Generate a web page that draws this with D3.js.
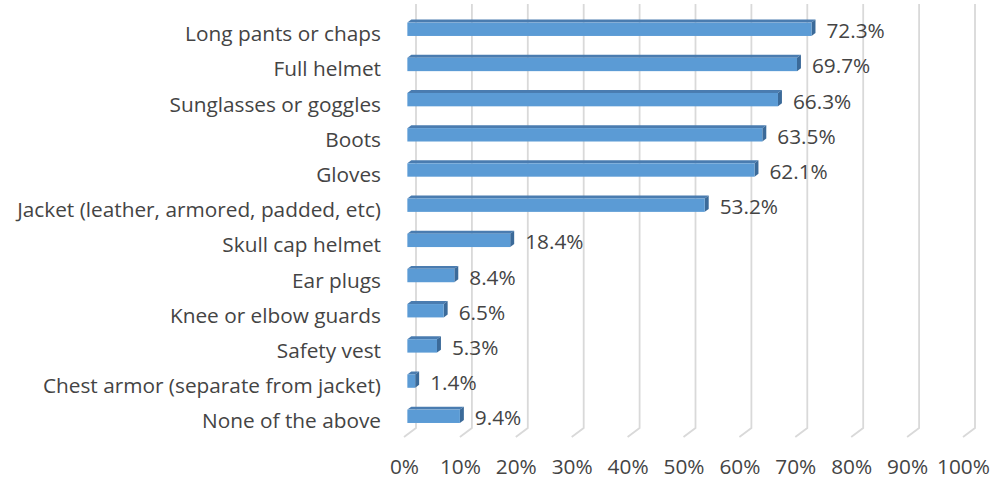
<!DOCTYPE html>
<html><head><meta charset="utf-8">
<script src="https://cdn.jsdelivr.net/npm/d3@7"></script>
<style>body{margin:0;background:#fff} svg text{font-family:"Open Sans",sans-serif}</style>
</head><body>
<svg id="chart" width="993" height="479"></svg>
<script>
const categories = [
  "Long pants or chaps",
  "Full helmet",
  "Sunglasses or goggles",
  "Boots",
  "Gloves",
  "Jacket (leather, armored, padded, etc)",
  "Skull cap helmet",
  "Ear plugs",
  "Knee or elbow guards",
  "Safety vest",
  "Chest armor (separate from jacket)",
  "None of the above"
];
const values = [72.3, 69.7, 66.3, 63.5, 62.1, 53.2, 18.4, 8.4, 6.5, 5.3, 1.4, 9.4];
const tickValues = [0, 10, 20, 30, 40, 50, 60, 70, 80, 90, 100];

const svg = d3.select("#chart");
const fontSize = 20.8;
const textColor = "#444444";
const wallTop = 4, wallBottom = 428;
const depthX = -12, depthY = 9;      // vector from back wall to front edge of floor
const fFront = 0.72, fBack = 0.39;   // bar depth positions (fraction of floor depth)

const x = d3.scaleLinear().domain([0, 100]).range([416, 975]);
const xFront = d3.scaleLinear().domain([0, 100]).range([416 + depthX, 975 + depthX]);
const y = d3.scaleBand().domain(categories).range([5.2, 427.4]);
const barH = y.bandwidth() * 0.38;

// gridlines (back wall + floor diagonal)
svg.append("g").selectAll("path").data(tickValues).join("path")
  .attr("d", t => `M${x(t)},${wallTop}V${wallBottom}L${x(t) + depthX},${wallBottom + depthY}`)
  .attr("fill", "none").attr("stroke", "#d9d9d9").attr("stroke-width", 1.8);

const data = categories.map((c, i) => ({c, v: values[i]}));
const bars = svg.append("g").selectAll("g").data(data).join("g");

function pt(v, c, f, off) {
  const cy = y(c) + y.bandwidth() / 2;
  return [x(v) + f * depthX, cy - barH / 2 + f * depthY + off];
}
// top face
bars.append("path")
  .attr("d", d => {
    const a = pt(0, d.c, fFront, 0), b = pt(d.v, d.c, fFront, 0),
          c2 = pt(d.v, d.c, fBack, 0), e = pt(0, d.c, fBack, 0);
    return `M${a}L${b}L${c2}L${e}Z`;
  })
  .attr("fill", "#4a7cb0");
// side face
bars.append("path")
  .attr("d", d => {
    const a = pt(d.v, d.c, fFront, 0), b = pt(d.v, d.c, fBack, 0),
          c2 = pt(d.v, d.c, fBack, barH), e = pt(d.v, d.c, fFront, barH);
    return `M${a}L${b}L${c2}L${e}Z`;
  })
  .attr("fill", "#3b6a99");
// front face
bars.append("rect")
  .attr("x", d => pt(0, d.c, fFront, 0)[0])
  .attr("y", d => pt(0, d.c, fFront, 0)[1])
  .attr("width", d => x(d.v) - x(0))
  .attr("height", barH)
  .attr("fill", "#5b9bd5");

// value labels
bars.append("text")
  .attr("x", d => x(d.v) + fBack * depthX + 11)
  .attr("y", d => y(d.c) + y.bandwidth() / 2 + fFront * depthY + 1.5)
  .attr("dy", "0.36em")
  .attr("font-size", fontSize).attr("fill", textColor)
  .text(d => d3.format(".1f")(d.v) + "%");

// category labels
svg.append("g").selectAll("text").data(categories).join("text")
  .attr("x", 381)
  .attr("y", c => y(c) + y.bandwidth() / 2 + depthY + 2)
  .attr("dy", "0.36em")
  .attr("text-anchor", "end")
  .attr("font-size", fontSize).attr("fill", textColor)
  .text(c => c);

// x axis
const axis = svg.append("g").attr("transform", "translate(0,459)")
  .call(d3.axisBottom(xFront).tickValues(tickValues).tickFormat(d => d + "%").tickSize(0).tickPadding(0));
axis.select(".domain").remove();
axis.selectAll("text").attr("font-size", fontSize).attr("fill", textColor)
  .style("font-family", '"Open Sans",sans-serif');
</script>
</body></html>
